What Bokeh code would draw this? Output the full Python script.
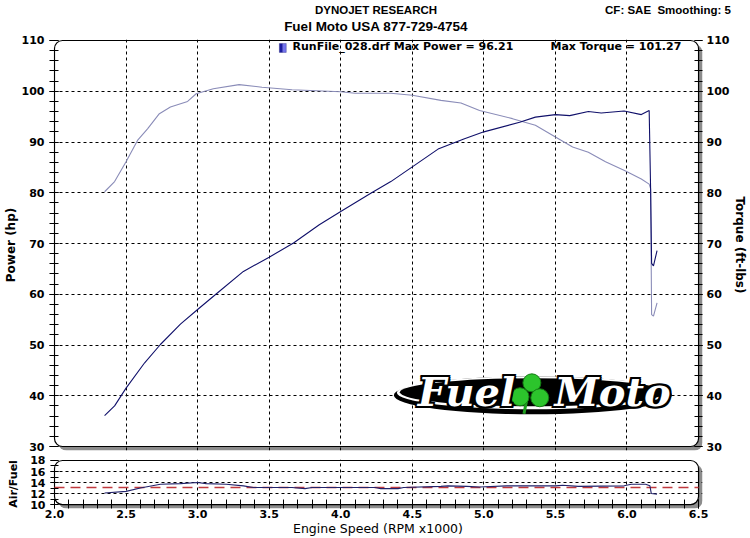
import math
from bokeh.plotting import figure
from bokeh.layouts import column
from bokeh.models import (Range1d, LinearAxis, SingleIntervalTicker, FixedTicker,
                          Label, BoxAnnotation)
from bokeh.embed import file_html
from bokeh.resources import INLINE

# ---------------- data (read from the dyno sheet) ----------------
rpm_power = [2.35, 2.42, 2.50, 2.63, 2.74, 2.88, 3.00, 3.14, 3.32, 3.50, 3.67, 3.85,
             4.00, 4.21, 4.35, 4.50, 4.68, 4.86, 5.00, 5.25, 5.36, 5.50, 5.60, 5.73,
             5.82, 5.98, 6.10, 6.155, 6.165, 6.172, 6.185, 6.21]
power_hp = [36.1, 38.0, 41.5, 46.5, 50.1, 54.1, 57.0, 60.3, 64.5, 67.3, 70.1, 73.7,
            76.3, 79.9, 82.2, 85.1, 88.6, 90.6, 92.0, 93.9, 94.9, 95.4, 95.2, 96.0,
            95.7, 96.1, 95.4, 96.2, 80.8, 66.1, 65.6, 68.6]

rpm_torque = [2.35, 2.42, 2.50, 2.58, 2.65, 2.73, 2.81, 2.93, 2.99, 3.11, 3.29, 3.45,
              3.66, 4.00, 4.10, 4.35, 4.50, 4.70, 4.84, 4.97, 5.20, 5.36, 5.50, 5.62,
              5.73, 5.85, 5.99, 6.10, 6.155, 6.165, 6.172, 6.185, 6.21]
torque_ftlb = [80.2, 82.2, 86.1, 90.3, 92.6, 95.5, 96.9, 98.0, 99.5, 100.5, 101.3, 100.8,
               100.3, 99.9, 99.6, 99.6, 99.2, 98.2, 97.7, 96.2, 94.6, 93.3, 91.0, 89.0,
               88.0, 86.1, 84.3, 82.7, 81.7, 80.8, 56.0, 55.7, 58.3]

rpm_afr = [2.35, 2.50, 2.60, 2.74, 2.88, 3.00, 3.06, 3.20, 3.32, 3.39, 3.66, 3.75, 3.80,
           4.24, 4.28, 4.40, 4.44, 4.70, 4.75, 4.88, 4.97, 5.16, 5.50, 5.55, 5.66, 5.98,
           6.03, 6.13, 6.16, 6.17, 6.21]
afr = [12.1, 12.4, 13.0, 13.7, 13.8, 14.0, 13.8, 13.7, 13.4, 13.1, 13.1, 12.9, 13.1,
       13.1, 12.9, 12.9, 13.1, 13.3, 13.4, 13.3, 13.2, 13.4, 13.4, 13.5, 13.3, 13.4,
       13.7, 13.7, 13.4, 12.0, 11.9]
afr_target = 13.1

x_ticks = [2.0, 2.5, 3.0, 3.5, 4.0, 4.5, 5.0, 5.5, 6.0, 6.5]
power_ticks = [30, 40, 50, 60, 70, 80, 90, 100, 110]
afr_ticks = [10, 12, 14, 16, 18]

header_title = "DYNOJET RESEARCH"
header_shop = "Fuel Moto USA 877-729-4754"
header_cf = "CF: SAE\u00a0 Smoothing: 5"
run_name = "RunFile_028.drf"
max_power = 96.21
max_torque = 101.27

# ---------------- layout constants (page pixels) ----------------
W = 750
BOX_L, BOX_R = 49, 702       # visible chart box, x
BOX1_T, BOX1_B = 38, 446     # main panel box, y
BOX2_T, BOX2_B = 460, 505    # air/fuel box, y
SH = 4                       # drop shadow size
FL = BOX_L - 1
FR = W - (BOX_R + SH)
P1_H = 453
P2_TOP = P1_H
P2_H = 538 - P2_TOP

X0, X1 = x_ticks[0], x_ticks[-1]
Y0, Y1 = power_ticks[0], power_ticks[-1]
A0, A1 = afr_ticks[0], afr_ticks[-1]
SX = (X1 - X0) / (BOX_R - BOX_L)
SY = (Y1 - Y0) / (BOX1_B - BOX1_T)
SA = (A1 - A0) / (BOX2_B - BOX2_T)

BOLD = "DejaVu Sans"
POWER_C = "#10106a"
TORQUE_C = "#8a8cb8"
AFR_C = "#22226a"


def fx(px):                  # page x -> frame-relative screen x
    return px - FL


def fy1(py):                 # page y -> frame-relative screen y (main)
    return (BOX1_B + SH) - py


def rx(px):
    return X0 + (px - BOX_L) * SX


def ry1(py):
    return Y1 - (py - BOX1_T) * SY


def frame_box(p, x0, x1, y0, y1, sx, sy):
    p.add_layout(BoxAnnotation(left=x0 + SH * sx, right=x1 + SH * sx,
                               bottom=y0 - SH * sy, top=y1 - SH * sy,
                               fill_color="#8c8c8c", fill_alpha=1, line_color=None,
                               border_radius=8, level="image"))
    p.add_layout(BoxAnnotation(left=x0, right=x1, bottom=y0, top=y1,
                               fill_color="white", fill_alpha=1, line_color="black",
                               line_alpha=1, line_width=1.2, border_radius=8, level="image"))


def style_axis(ax, size, tin, tout, standoff, font=BOLD):
    ax.axis_line_color = None
    ax.major_tick_line_color = "black"
    ax.minor_tick_line_color = "black"
    ax.major_tick_in = tin
    ax.major_tick_out = tout
    ax.minor_tick_in = tin
    ax.minor_tick_out = tout
    ax.major_label_standoff = standoff
    ax.major_label_text_font = font
    ax.major_label_text_font_style = "bold"
    ax.major_label_text_font_size = size
    ax.major_label_text_color = "black"
    ax.axis_label_text_font = BOLD
    ax.axis_label_text_font_style = "bold"
    ax.axis_label_text_color = "black"


def header_axis(texts, centers, size, standoff):
    ticks = [round(rx(c), 4) for c in centers]
    ax = LinearAxis(ticker=FixedTicker(ticks=ticks, minor_ticks=[]))
    style_axis(ax, size, 0, 0, standoff, font="Liberation Sans")
    ax.major_tick_line_color = None
    ax.minor_tick_line_color = None
    ax.major_label_overrides = {t: s for t, s in zip(ticks, texts)}
    return ax


def style_grid(g, ticks):
    g.ticker = FixedTicker(ticks=ticks)
    g.grid_line_color = "black"
    g.grid_line_alpha = 1
    g.grid_line_dash = "3 3"
    g.grid_line_width = 1


def lbl(p, x, y, text, size, style="bold", align="center", color="black",
        font=BOLD, xo=0, yo=0):
    p.add_layout(Label(x=x, y=y, x_units="screen", y_units="screen", text=text,
                       text_font=font, text_font_style=style, text_font_size=size,
                       text_align=align, text_baseline="middle",
                       text_color=color, x_offset=xo, y_offset=yo))


common = dict(output_backend="svg", toolbar_location=None, outline_line_color=None,
              background_fill_color="white", border_fill_color="white")

# ---------------- main panel ----------------
p1 = figure(width=W, height=P1_H,
            x_range=Range1d(X0 - SX, X1 + SH * SX),
            y_range=Range1d(Y0 - SH * SY, Y1 + SY),
            x_axis_location=None, y_axis_location="left",
            min_border_left=FL, min_border_right=FR,
            min_border_top=BOX1_T - 1,
            min_border_bottom=P1_H - (BOX1_B + SH), **common)

frame_box(p1, X0, X1, Y0, Y1, SX, SY)

# header lines (inner one first: later "above" items sit further from the frame)
p1.add_layout(header_axis([header_shop], [375], "13.5px", 6), "above")
p1.add_layout(header_axis([header_title, header_cf], [375, 671], "11.5px", 0), "above")

la = p1.yaxis[0]
la.ticker = SingleIntervalTicker(interval=10, num_minor_ticks=5)
style_axis(la, "11px", 5, 4, 5)
la.axis_label = "Power (hp)"
la.axis_label_text_font_size = "12px"
la.axis_label_standoff = 1
ra = LinearAxis(ticker=SingleIntervalTicker(interval=10, num_minor_ticks=5))
style_axis(ra, "11px", 8, 0, 4)
ra.axis_label = "Torque (ft-lbs)"
ra.axis_label_text_font_size = "12px"
ra.axis_label_standoff = 1
p1.add_layout(ra, "right")

style_grid(p1.xgrid, x_ticks[1:-1])
style_grid(p1.ygrid, power_ticks[1:-1])

# Fuel Moto logo (decoration)
lx = rx(534)
p1.ellipse(x=[lx], y=[ry1(394.5)], width=[278], height=[38], width_units="screen",
           height_units="screen", fill_color="black", line_color=None)
p1.ellipse(x=[lx], y=[ry1(392)], width=[272], height=[33], width_units="screen",
           height_units="screen", fill_color="white", line_color=None)
p1.ellipse(x=[lx], y=[ry1(391.5)], width=[266], height=[28], width_units="screen",
           height_units="screen", fill_color="black", line_color=None)
p1.line(x=[rx(528), rx(525)], y=[ry1(398), ry1(413)], line_color="#1f9e1f", line_width=3)
p1.scatter(x=[rx(533), rx(521), rx(541)], y=[ry1(382), ry1(396), ry1(397)], size=18,
           marker="circle", fill_color="#2cc42c", line_color="#137a13", line_width=1)
for word, cx in (("Fuel", 461), ("Moto", 607)):
    for dx, dy in ((-2, 0), (2, 0), (0, -2), (0, 2), (-2, -2), (2, 2), (-2, 2), (2, -2)):
        lbl(p1, fx(cx), fy1(391), word, "40px", style="bold italic", color="black",
            font="DejaVu Serif", xo=dx, yo=dy)
    lbl(p1, fx(cx), fy1(391), word, "40px", style="bold italic", color="white",
        font="DejaVu Serif")

# curves
p1.line(rpm_torque, torque_ftlb, line_color=TORQUE_C, line_width=1.1)
p1.line(rpm_power, power_hp, line_color=POWER_C, line_width=1.1)

# legend line
p1.add_layout(BoxAnnotation(left=rx(277), right=rx(280.5), bottom=ry1(50), top=ry1(41),
                            fill_color="#1c1ca0", fill_alpha=1, line_color=None))
p1.add_layout(BoxAnnotation(left=rx(280.5), right=rx(284), bottom=ry1(50), top=ry1(41),
                            fill_color="#7474ec", fill_alpha=1, line_color=None))
p1.add_layout(BoxAnnotation(left=rx(277), right=rx(284), bottom=ry1(50), top=ry1(41),
                            fill_alpha=0, line_color="#10106a", line_width=1))
lbl(p1, fx(287), fy1(46), f"{run_name} Max Power = {max_power:.2f}", "11px", align="left")
lbl(p1, fx(545), fy1(46), f"Max Torque = {max_torque:.2f}", "11px", align="left")

# ---------------- air / fuel panel ----------------
p2 = figure(width=W, height=P2_H,
            x_range=Range1d(X0 - SX, X1 + SH * SX),
            y_range=Range1d(A0 - SH * SA, A1 + SA),
            min_border_left=FL, min_border_right=FR,
            min_border_top=(BOX2_T - 1) - P2_TOP,
            min_border_bottom=P2_TOP + P2_H - (BOX2_B + SH), **common)
frame_box(p2, X0, X1, A0, A1, SX, SA)

ba = p2.xaxis[0]
ba.ticker = SingleIntervalTicker(interval=0.5, num_minor_ticks=5)
style_axis(ba, "11px", 9, 0, 1)
ba.major_label_overrides = {t: f"{t:.1f}" for t in x_ticks}
ba.axis_label = "Engine Speed (RPM x1000)"
ba.axis_label_text_font_style = "normal"
ba.axis_label_text_font_size = "12.5px"
ba.axis_label_standoff = 0

ya = p2.yaxis[0]
ya.ticker = SingleIntervalTicker(interval=2, num_minor_ticks=2)
style_axis(ya, "11px", 5, 3, 5)
ya.axis_label = "Air/Fuel"
ya.axis_label_text_font_size = "11px"
ya.axis_label_standoff = 7

style_grid(p2.xgrid, x_ticks[1:-1])
style_grid(p2.ygrid, afr_ticks[1:-1])

p2.segment(x0=[X0], y0=[afr_target], x1=[X1], y1=[afr_target], line_color="#c0393e",
           line_dash="10 6", line_width=1.3)
p2.line(rpm_afr, afr, line_color=AFR_C, line_width=1.1)

layout = column(p1, p2, spacing=0)
open("out.html", "w").write(file_html(layout, INLINE))
